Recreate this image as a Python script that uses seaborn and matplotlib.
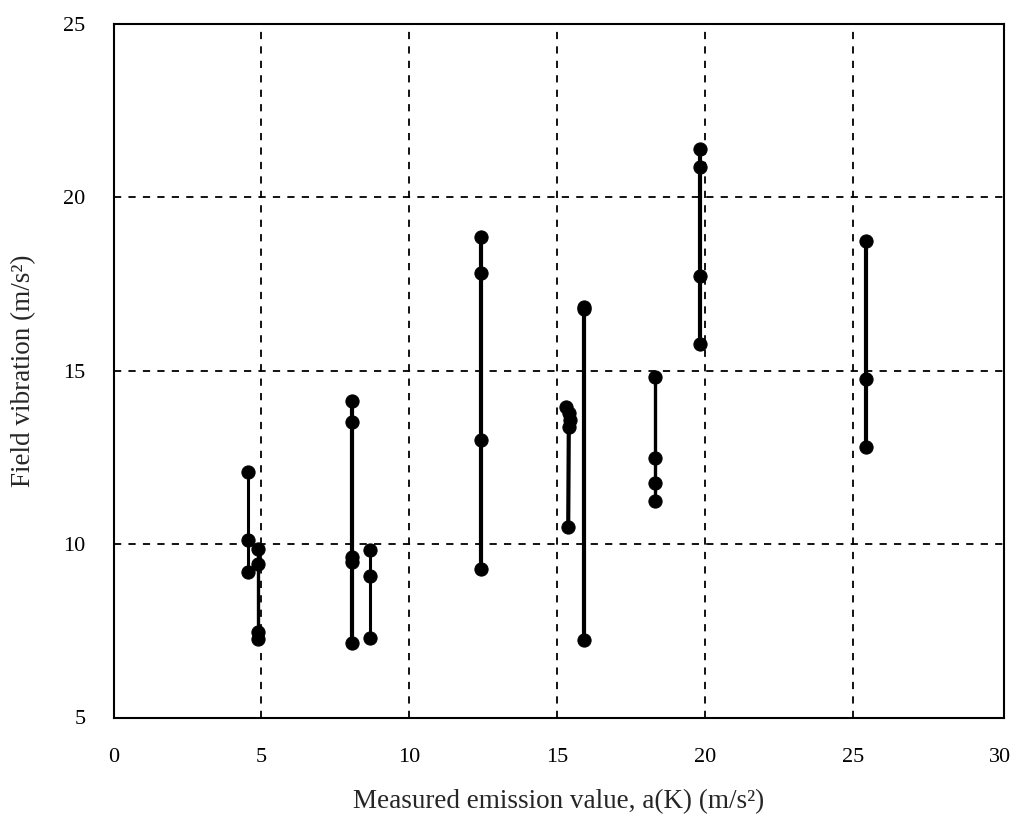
import matplotlib
matplotlib.use("Agg")
import matplotlib.pyplot as plt
import seaborn as sns
import pandas as pd

# Measured emission value a(K) for each machine and its field vibration readings
group_ids = ["A", "B", "C", "D", "E", "F", "G", "H", "I", "J"]
emission_x = [
    [4.55, 4.55, 4.55],
    [4.89, 4.89, 4.89, 4.89],
    [8.07, 8.07, 8.07, 8.07, 8.07],
    [8.67, 8.67, 8.67],
    [12.42, 12.42, 12.42, 12.42],
    [15.3, 15.4, 15.45, 15.4, 15.38],
    [15.93, 15.93, 15.93],
    [18.33, 18.33, 18.33, 18.33],
    [19.85, 19.85, 19.85, 19.85],
    [25.45, 25.45, 25.45],
]
field_y = [
    [12.09, 10.12, 9.21],
    [9.85, 9.43, 7.47, 7.26],
    [14.13, 13.53, 9.63, 9.48, 7.14],
    [9.83, 9.08, 7.28],
    [18.85, 17.83, 13.0, 9.27],
    [13.95, 13.78, 13.58, 13.38, 10.5],
    [16.83, 16.78, 7.23],
    [14.83, 12.48, 11.77, 11.24],
    [21.4, 20.87, 17.74, 15.77],
    [18.74, 14.76, 12.81],
]
line_widths = [2.2, 2.4, 3.0, 2.2, 3.0, 3.0, 3.0, 2.4, 3.0, 3.0]

x_ticks = [0, 5, 10, 15, 20, 25, 30]
y_ticks = [5, 10, 15, 20, 25]

rows = []
for gid, xs, ys in zip(group_ids, emission_x, field_y):
    for xv, yv in zip(xs, ys):
        rows.append({"group": gid, "x": xv, "y": yv})
df = pd.DataFrame(rows)

sns.set_theme(style="white")
plt.rcParams["font.family"] = ["Liberation Serif", "DejaVu Serif"]

fig = plt.figure(figsize=(10.25, 8.26), dpi=100)
W, H = 1025, 826
left, right, top, bottom = 113.5, 1004, 24, 717.5
ax = fig.add_axes([left / W, 1 - bottom / H, (right - left) / W, (bottom - top) / H])

for gid, lw in zip(group_ids, line_widths):
    sub = df[df["group"] == gid]
    sns.lineplot(data=sub, x="x", y="y", estimator=None, sort=False,
                 color="black", linewidth=lw, marker="o", markersize=9.5,
                 markeredgecolor="black", markerfacecolor="black", ax=ax,
                 zorder=3)

ax.set_xlim(0, 30.12)
ax.set_ylim(5, 25)
ax.set_xticks(x_ticks)
ax.set_yticks(y_ticks)
ax.set_xticklabels([str(t) for t in x_ticks])
ax.set_yticklabels([str(t) for t in y_ticks])

for xv in x_ticks[1:-1]:
    ax.axvline(xv, color="black", linestyle=(0, (4, 4)), linewidth=1.3, zorder=1)
for yv in y_ticks[1:-1]:
    ax.axhline(yv, color="black", linestyle=(0, (4, 4)), linewidth=1.3, zorder=1)

for s in ax.spines.values():
    s.set_visible(True)
    s.set_color("black")
    s.set_linewidth(1.5)

ax.tick_params(axis="both", direction="in", length=12, width=1.2,
               colors="black", labelsize=16)
ax.tick_params(axis="y", pad=20)
ax.tick_params(axis="x", pad=22)

ax.set_xlabel("Measured emission value, a(K) (m/s²)", fontsize=19.5, labelpad=16)
ax.set_ylabel("Field vibration (m/s²)", fontsize=19.5, labelpad=20)

fig.savefig("out.png", dpi=100, facecolor="white")
